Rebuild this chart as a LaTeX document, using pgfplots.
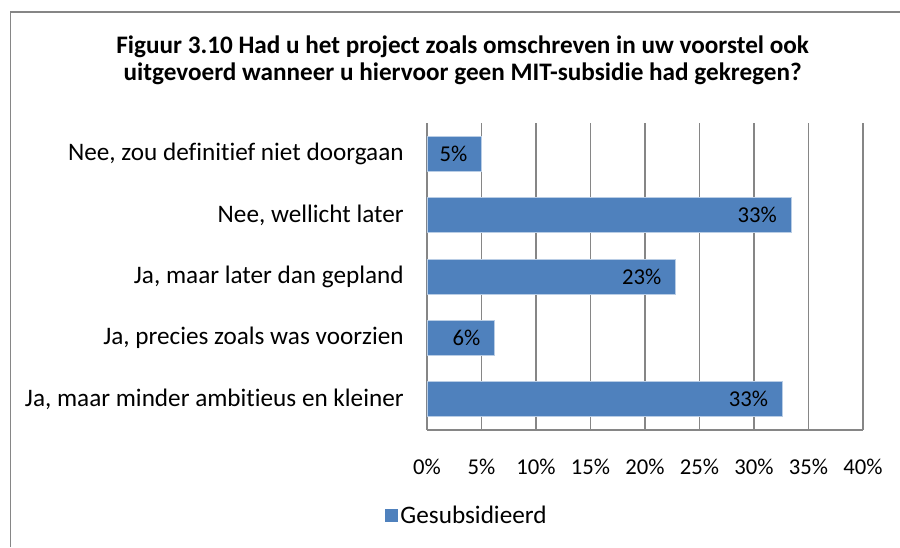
\documentclass[border=0pt]{standalone}
\usepackage{pgfplots}
\pgfplotsset{compat=1.18}
\usepackage{fontspec}
\setmainfont{Carlito}[Ligatures=NoCommon]
\definecolor{barblue}{HTML}{4F81BD}
\definecolor{baredge}{HTML}{B9CDE5}
\definecolor{gridgray}{HTML}{868686}
\newcommand{\lbl}{\fontsize{17}{20}\selectfont}
\newcommand{\cat}{\fontsize{18.9}{22}\selectfont}
\begin{document}
\begin{tikzpicture}
\useasboundingbox (0,0) rectangle (675pt,410.25pt);
% chart frame (only left and top edges are visible)
\draw[gridgray, line width=0.8pt] (7.9pt,0) -- (7.9pt,401.25pt) -- (675pt,401.25pt);
\node[align=center, font=\bfseries\fontsize{18.9}{20}\selectfont] at (347pt,365pt)
  {Figuur 3.10 Had u het project zoals omschreven in uw voorstel ook\\
   uitgevoerd wanneer u hiervoor geen MIT-subsidie had gekregen?};
\begin{axis}[
    at={(320.25pt,87.75pt)}, anchor=south west,
    scale only axis,
    width=327pt, height=230pt,
    xbar, bar width=26.25pt,
    xmin=0, xmax=40,
    ymin=-0.5, ymax=4.5,
    y dir=reverse,
    xtick={0,5,...,40},
    xticklabel={\pgfmathprintnumber{\tick}\%},
    ytick={0,1,2,3,4},
    yticklabels={Nee{,} zou definitief niet doorgaan, Nee{,} wellicht later,
      Ja{,} maar later dan gepland, Ja{,} precies zoals was voorzien,
      Ja{,} maar minder ambitieus en kleiner},
    major tick length=0pt,
    axis x line*=bottom, axis y line*=left,
    axis line style={gridgray, line width=0.8pt},
    xmajorgrids, grid style={gridgray, line width=0.8pt},
    xticklabel style={font=\lbl, yshift=-18pt},
    yticklabel style={font=\cat, xshift=-14pt},
    /pgf/number format/assume math mode=true,
    nodes near coords={\pgfmathprintnumber[fixed,precision=0]{\pgfplotspointmeta}\%},
    point meta=x,
    every node near coord/.append style={font=\lbl, anchor=east, xshift=-7pt, black},
    legend style={at={(rel axis cs:0.092,-0.28)}, anchor=center, draw=none,
      font=\cat, inner sep=0pt},
    legend image code/.code={\fill[barblue] (0pt,-4.5pt) rectangle (9pt,4.5pt);},
]
\addplot[fill=barblue, draw=baredge, line width=0.6pt] coordinates {
    (5.0,0) (33.4,1) (22.8,2) (6.2,3) (32.6,4)
};
\legend{Gesubsidieerd}
\end{axis}
\end{tikzpicture}
\end{document}
